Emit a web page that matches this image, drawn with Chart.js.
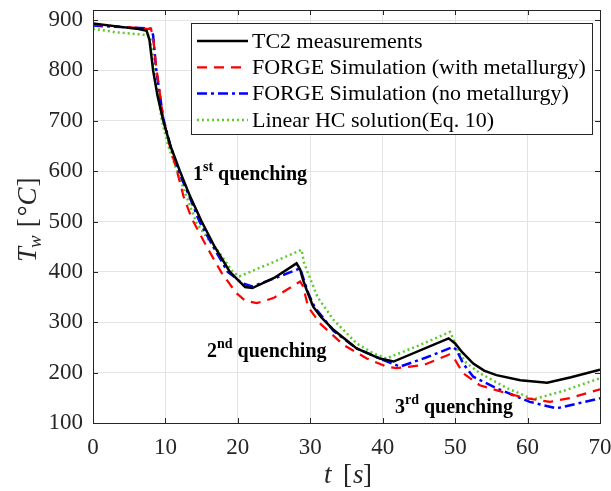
<!DOCTYPE html>
<html>
<head>
<meta charset="utf-8">
<script src="https://cdn.jsdelivr.net/npm/chart.js@4.4.1/dist/chart.umd.min.js"></script>
<style>
  html, body { margin: 0; padding: 0; background: #fff; }
  #contenedor { width: 611px; height: 491px; }
</style>
</head>
<body>
<div id="contenedor"><canvas id="grafico"></canvas></div>
<script>
// Tiempos (s) y temperaturas (°C) de cada curva.
const tcTiempo = [0, 3, 6, 7.4, 7.8, 8.3, 8.9, 9.7, 10.7, 12.0, 13.4, 15.0, 16.8, 18.9, 20.0, 21.0, 22.0, 25.0, 28.1, 28.6, 29.0, 29.5, 30.4, 31.5, 33.2, 36.4, 39.6, 41.5, 49.1, 50.0, 51.0, 52.5, 54.0, 55.7, 59.0, 62.7, 66.0, 70.0];
const tcTemp   = [893, 888, 883, 879, 860, 800, 750, 700, 650, 600, 550, 500, 450, 400, 384, 370, 368, 388, 417, 405, 384, 364, 331, 310, 285, 248, 228, 222, 268, 258, 240, 218, 204, 195, 185, 180, 191, 206];

const conMetTiempo = [0, 4, 8.0, 8.3, 8.7, 9.7, 10.6, 11.6, 12.5, 13.6, 15.7, 17.8, 19.8, 21.0, 22.6, 24.9, 26.7, 28.6, 29.0, 29.7, 31.3, 34.6, 37.8, 40.5, 41.9, 45.6, 49.2, 49.8, 51.1, 53.4, 57.1, 59.9, 63.1, 66.0, 70.0];
const conMetTemp   = [891, 887, 882, 868, 810, 705, 650, 600, 550, 507, 450, 397, 358, 343, 338, 348, 364, 381, 371, 331, 298, 255, 228, 212, 209, 215, 236, 230, 199, 175, 159, 149, 142, 150, 167];

const sinMetTiempo = [0, 4, 8.0, 8.3, 8.7, 9.7, 10.7, 11.8, 13.3, 14.7, 16.6, 18.6, 19.8, 20.5, 22.0, 25.0, 28.6, 29.2, 29.8, 30.6, 33.2, 36.4, 40.1, 42.4, 46.0, 49.7, 50.2, 51.1, 52.5, 55.7, 60.3, 64.0, 70.0];
const sinMetTemp   = [889, 886, 883, 870, 805, 705, 650, 600, 550, 500, 450, 400, 387, 378, 371, 387, 407, 380, 355, 330, 283, 248, 225, 212, 230, 251, 245, 218, 192, 169, 142, 129, 149];

const linealTiempo = [0, 3, 6.9, 7.9, 8.6, 9.5, 10.4, 11.6, 12.9, 14.3, 15.9, 17.5, 19.3, 20.2, 24.5, 28.8, 29.1, 29.7, 31.0, 33.2, 36.4, 38.5, 40.5, 45.0, 49.3, 49.8, 50.4, 51.5, 53.4, 57.2, 60.8, 65.0, 70.0];
const linealTemp   = [883, 876, 871, 868, 788, 700, 650, 600, 550, 497, 465, 437, 400, 391, 417, 444, 420, 397, 350, 305, 258, 240, 228, 254, 281, 265, 242, 220, 199, 169, 147, 164, 189];

// Ejes
const ejeXTicks = [0, 10, 20, 30, 40, 50, 60, 70];
const ejeYTicks = [100, 200, 300, 400, 500, 600, 700, 800, 900];

const nombres = [
  'TC2 measurements',
  'FORGE Simulation (with metallurgy)',
  'FORGE Simulation (no metallurgy)',
  'Linear HC solution(Eq. 10)'
];

const serif = "'Liberation Serif', 'Times New Roman', serif";
const colorEje = '#262626';

function puntos(tiempo, temp) {
  return tiempo.map((t, i) => ({ x: t, y: temp[i] }));
}

// Caja, marcas interiores, leyenda, textos y títulos de ejes.
const decoracion = {
  id: 'decoracion',
  afterDraw(chart) {
    const ctx = chart.ctx;
    const area = chart.chartArea;
    const sx = chart.scales.x;
    const sy = chart.scales.y;
    ctx.save();

    // marcas hacia dentro en los cuatro lados
    ctx.strokeStyle = colorEje;
    ctx.lineWidth = 1;
    ctx.beginPath();
    ejeXTicks.forEach(v => {
      const px = Math.round(sx.getPixelForValue(v)) + 0.5;
      ctx.moveTo(px, area.bottom); ctx.lineTo(px, area.bottom - 5);
      ctx.moveTo(px, area.top); ctx.lineTo(px, area.top + 5);
    });
    ejeYTicks.forEach(v => {
      const py = Math.round(sy.getPixelForValue(v)) + 0.5;
      ctx.moveTo(area.left, py); ctx.lineTo(area.left + 5, py);
      ctx.moveTo(area.right, py); ctx.lineTo(area.right - 5, py);
    });
    ctx.stroke();
    ctx.strokeRect(Math.round(area.left) + 0.5, Math.round(area.top) + 0.5,
      Math.round(area.right - area.left), Math.round(area.bottom - area.top));

    // leyenda
    const lx = 191, ly = 23, lw = 401, lh = 111;
    ctx.fillStyle = '#fff';
    ctx.fillRect(lx, ly, lw, lh);
    ctx.strokeStyle = colorEje;
    ctx.lineWidth = 1;
    ctx.strokeRect(lx + 0.5, ly + 0.5, lw, lh);
    ctx.font = '22px ' + serif;
    ctx.textBaseline = 'middle';
    ctx.textAlign = 'left';
    chart.data.datasets.forEach((ds, i) => {
      const y = 41 + i * 26.3;
      ctx.strokeStyle = ds.borderColor;
      ctx.lineWidth = ds.borderWidth;
      ctx.setLineDash(ds.borderDash || []);
      ctx.beginPath();
      ctx.moveTo(197, y); ctx.lineTo(248, y);
      ctx.stroke();
      ctx.setLineDash([]);
      ctx.fillStyle = '#000';
      ctx.fillText(ds.label, 252, y + 1);
    });

    // rótulos de cada temple
    const rotulo = (x, y, num, sup) => {
      ctx.fillStyle = '#000';
      ctx.textBaseline = 'alphabetic';
      ctx.font = 'bold 20px ' + serif;
      ctx.fillText(num, x, y);
      let w = ctx.measureText(num).width;
      ctx.font = 'bold 14px ' + serif;
      ctx.fillText(sup, x + w, y - 9);
      w += ctx.measureText(sup).width + 5;
      ctx.font = 'bold 20px ' + serif;
      ctx.fillText('quenching', x + w, y);
    };
    rotulo(193, 180, '1', 'st');
    rotulo(207, 357, '2', 'nd');
    rotulo(395, 413, '3', 'rd');

    // título eje x: t [s]
    ctx.fillStyle = colorEje;
    ctx.textBaseline = 'alphabetic';
    ctx.font = 'italic 27px ' + serif;
    ctx.fillText('t', 324, 483);
    ctx.font = '27px ' + serif;
    ctx.fillText('[', 343, 483);
    ctx.font = 'italic 27px ' + serif;
    ctx.fillText('s', 353, 483);
    ctx.font = '27px ' + serif;
    ctx.fillText(']', 363, 483);

    // título eje y: T_w [°C]
    ctx.translate(36, 262);
    ctx.rotate(-Math.PI / 2);
    let cx = 0;
    ctx.font = 'italic 27px ' + serif;
    ctx.fillText('T', cx, 0); cx += ctx.measureText('T').width - 1;
    ctx.font = 'italic 19px ' + serif;
    ctx.fillText('w', cx, 5); cx += ctx.measureText('w').width + 8;
    ctx.font = '27px ' + serif;
    ctx.fillText('[', cx, 0); cx += ctx.measureText('[').width + 2;
    ctx.fillText('°', cx, 0); cx += ctx.measureText('°').width;
    ctx.font = 'italic 27px ' + serif;
    ctx.fillText('C', cx, 0); cx += ctx.measureText('C').width + 1;
    ctx.font = '27px ' + serif;
    ctx.fillText(']', cx, 0);

    ctx.restore();
  }
};

new Chart(document.getElementById('grafico'), {
  type: 'line',
  data: {
    datasets: [
      { label: nombres[0], data: puntos(tcTiempo, tcTemp), borderColor: '#000000', borderWidth: 2.5 },
      { label: nombres[1], data: puntos(conMetTiempo, conMetTemp), borderColor: '#ff0000', borderWidth: 2.2, borderDash: [10, 7] },
      { label: nombres[2], data: puntos(sinMetTiempo, sinMetTemp), borderColor: '#0000ff', borderWidth: 2.5, borderDash: [10, 4, 3, 4] },
      { label: nombres[3], data: puntos(linealTiempo, linealTemp), borderColor: '#5ccb2a', borderWidth: 2.5, borderDash: [2, 3] }
    ]
  },
  options: {
    responsive: true,
    maintainAspectRatio: false,
    animation: false,
    layout: { padding: { top: 10, right: 11, left: 0, bottom: 0 } },
    elements: { point: { radius: 0 }, line: { tension: 0, fill: false } },
    plugins: { legend: { display: false }, tooltip: { enabled: false } },
    scales: {
      x: {
        type: 'linear', min: 0, max: 70,
        afterFit: s => { s.height = 68; s.paddingLeft = 0; s.paddingRight = 0; },
        afterBuildTicks: s => { s.ticks = ejeXTicks.map(v => ({ value: v })); },
        ticks: { color: colorEje, font: { family: serif, size: 23 }, padding: 11, maxRotation: 0 },
        grid: { color: '#e3e3e3', drawTicks: false },
        border: { display: false }
      },
      y: {
        type: 'linear', min: 100, max: 920,
        afterFit: s => { s.width = 93; s.paddingTop = 0; s.paddingBottom = 0; },
        afterBuildTicks: s => { s.ticks = ejeYTicks.map(v => ({ value: v })); },
        ticks: { color: colorEje, font: { family: serif, size: 23 }, padding: 10 },
        grid: { color: '#e3e3e3', drawTicks: false },
        border: { display: false }
      }
    }
  },
  plugins: [decoracion]
});
</script>
</body>
</html>
